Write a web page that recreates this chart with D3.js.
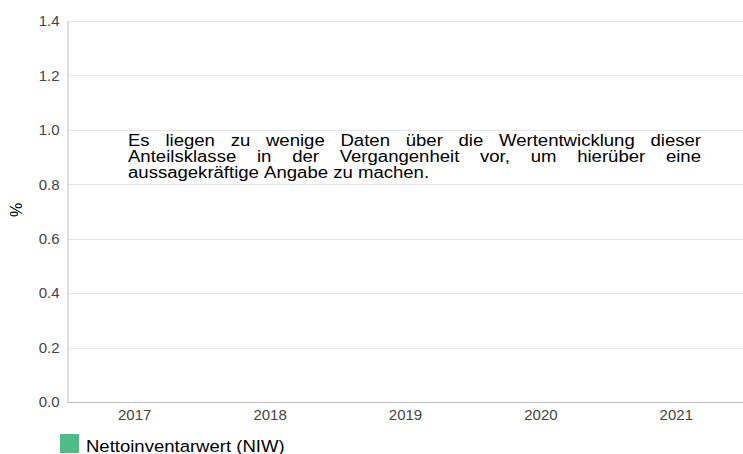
<!DOCTYPE html>
<html>
<head>
<meta charset="utf-8">
<script src="https://cdn.jsdelivr.net/npm/d3@7"></script>
<style>
	body { margin: 0; background: #fff; }
	svg { display: block; font-family: "Liberation Sans", Arial, sans-serif; }
</style>
</head>
<body>
<svg class="chart"></svg>
<script>
var years = ['2017', '2018', '2019', '2020', '2021'];
var niwValues = [null, null, null, null, null];
var yTicks = [0, 0.2, 0.4, 0.6, 0.8, 1.0, 1.2, 1.4];
var seriesName = 'Nettoinventarwert (NIW)';
var noteLines = [
	'Es liegen zu wenige Daten über die Wertentwicklung dieser',
	'Anteilsklasse in der Vergangenheit vor, um hierüber eine',
	'aussagekräftige Angabe zu machen.'
];

var W = 743, H = 454;
var mLeft = 67, mRight = 744, mTop = 21, mBottom = 402;

var svg = d3.select('.chart')
	.attr('width', W)
	.attr('height', H);

var x = d3.scaleBand()
	.domain(years)
	.range([mLeft, mRight]);

var y = d3.scaleLinear()
	.domain([0, 1.4])
	.range([mBottom, mTop]);

// gridlines
svg.append('g')
	.selectAll('line')
	.data(yTicks.slice(1))
	.enter().append('line')
	  .attr('x1', mLeft)
	  .attr('x2', W)
	  .attr('y1', function(d) { return Math.round(y(d)) + 0.5 })
	  .attr('y2', function(d) { return Math.round(y(d)) + 0.5 })
	  .attr('stroke', '#e6e6e6');

// bars (no data for this share class)
svg.append('g')
	.selectAll('rect')
	.data(years.map(function(d, i) { return {year: d, v: niwValues[i]} }).filter(function(d) { return d.v != null }))
	.enter().append('rect')
	  .attr('x', function(d) { return x(d.year) + x.bandwidth() * 0.2 })
	  .attr('width', x.bandwidth() * 0.6)
	  .attr('y', function(d) { return y(d.v) })
	  .attr('height', function(d) { return y(0) - y(d.v) })
	  .attr('fill', '#4fbb85');

// y axis
var yAxis = svg.append('g')
	.attr('transform', 'translate(' + (mLeft + 0.5) + ',0)')
	.call(d3.axisLeft(y).tickValues(yTicks).tickFormat(d3.format('.1f')).tickSize(0).tickPadding(8));
yAxis.select('.domain').attr('stroke', '#c0c0c0');
yAxis.selectAll('text')
	.attr('fill', '#444')
	.style('font-size', '15px')
	.style('font-family', '"Liberation Sans", Arial, sans-serif');

// x axis
var xAxis = svg.append('g')
	.attr('transform', 'translate(0,' + (mBottom + 0.5) + ')')
	.call(d3.axisBottom(x).tickSize(0).tickPadding(7));
xAxis.select('.domain').attr('stroke', '#c0c0c0').attr('d', 'M' + mLeft + ',0H' + W);
xAxis.selectAll('text')
	.attr('fill', '#444')
	.style('font-size', '15px')
	.style('font-family', '"Liberation Sans", Arial, sans-serif');

// y title
svg.append('text')
	.attr('transform', 'translate(22,210) rotate(-90)')
	.attr('text-anchor', 'middle')
	.style('font-size', '16px')
	.text('%');

// notice text, justified by hand (last line left aligned)
var noteX = 128, noteW = 573, noteY = 146, lineH = 16, noteSx = 1.16;
var note = svg.append('g')
	.attr('transform', 'translate(' + noteX + ',0) scale(' + noteSx + ',1)');
noteLines.forEach(function(line, li) {
	var words = line.split(' ');
	var t = note.append('text')
		.attr('y', noteY + li * lineH)
		.style('font-size', '16px')
		.attr('fill', '#000');
	var spans = words.map(function(w) { return t.append('tspan').text(w) });
	var widths = spans.map(function(s) { return s.node().getComputedTextLength() });
	var total = d3.sum(widths);
	var space = 4.45;
	var last = li === noteLines.length - 1;
	if (!last) space = (noteW / noteSx - total) / (words.length - 1);
	var cx = 0;
	spans.forEach(function(s, i) {
		s.attr('x', cx);
		cx += widths[i] + space;
	});
});

// legend
var legend = svg.append('g').attr('transform', 'translate(60,434)');
legend.append('rect')
	.attr('width', 19)
	.attr('height', 19)
	.attr('fill', '#4fbb85');
legend.append('text')
	.attr('transform', 'translate(26,18) scale(1.09,1)')
	.style('font-size', '17px')
	.attr('fill', '#000')
	.text(seriesName);
</script>
</body>
</html>
